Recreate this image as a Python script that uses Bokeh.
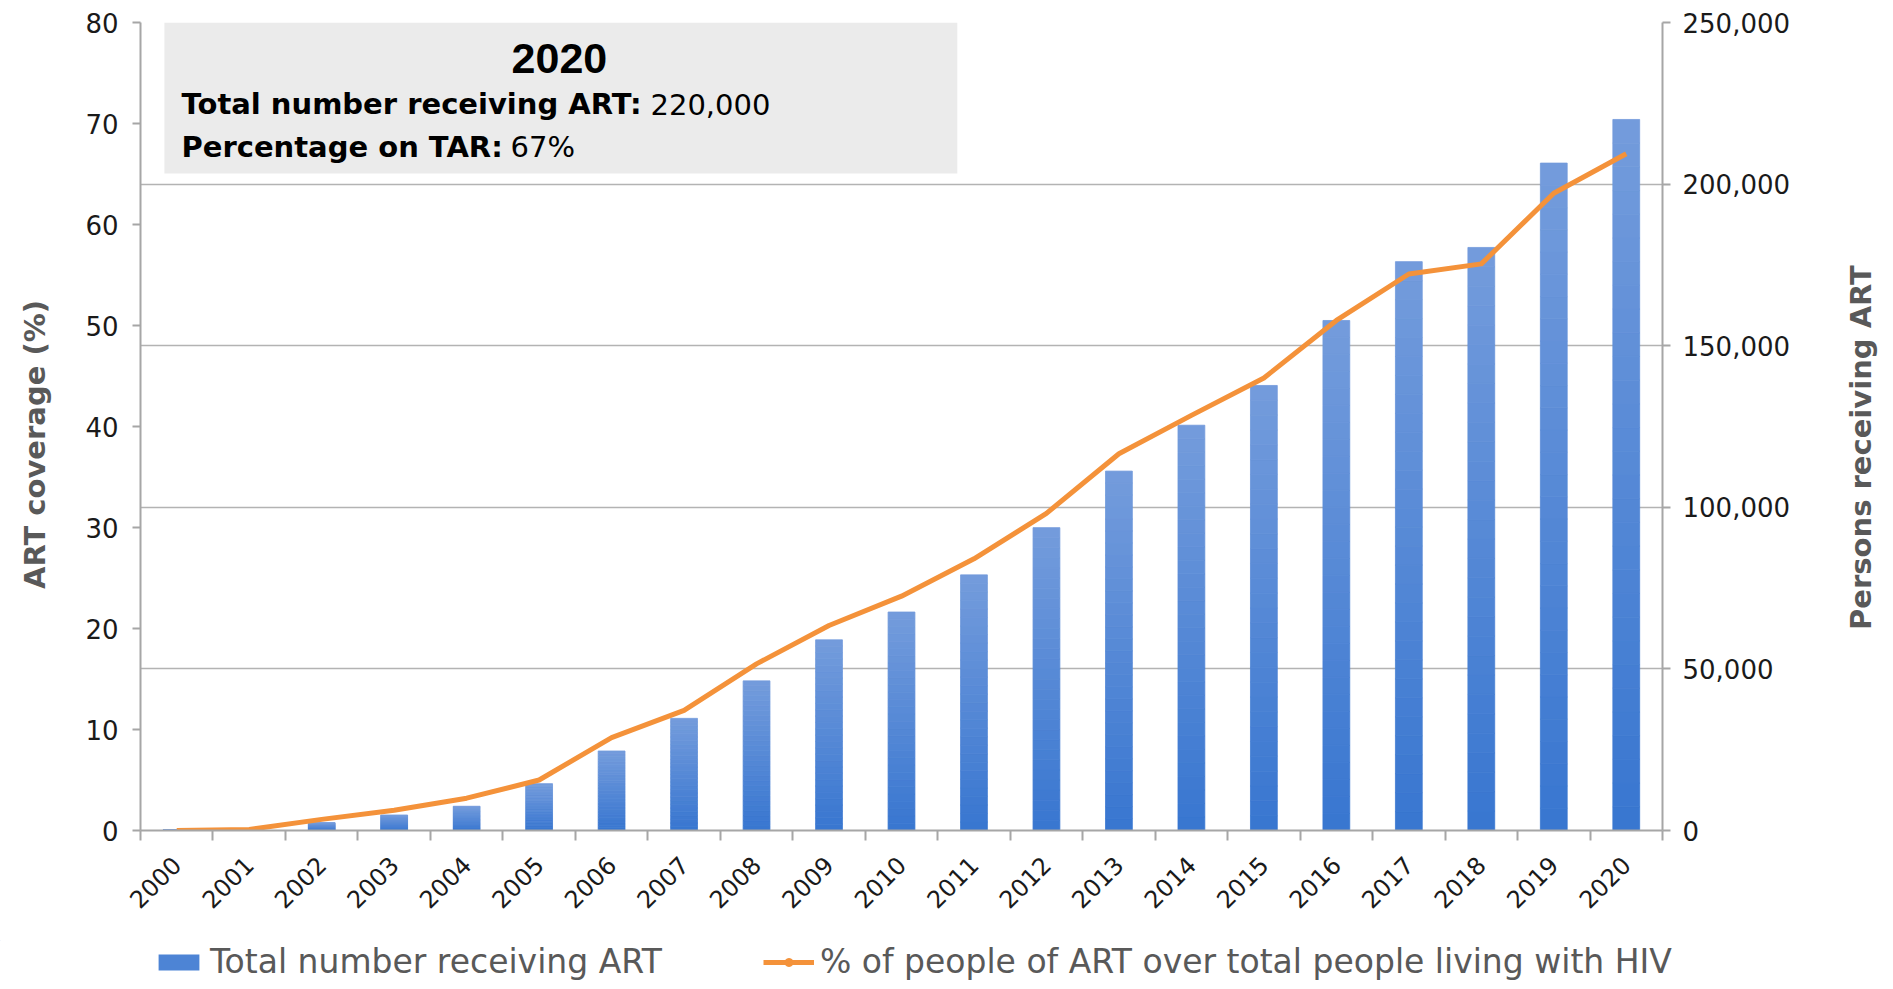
from math import pi
from bokeh.plotting import figure
from bokeh.layouts import row, column
from bokeh.models import (Range1d, LinearAxis, FixedTicker, NumeralTickFormatter, Grid,
                          BoxAnnotation, Label, Legend, LegendItem, ColumnDataSource)
from bokeh.embed import file_html
from bokeh.resources import INLINE

# ---------------- data ----------------
years = list(range(2000, 2021))
year_labels = [str(y) for y in years]
art_total = [300, 400, 2400, 4800, 7500, 14500, 24600, 34700, 46300, 59000, 67600,
             79100, 93700, 111200, 125400, 137700, 157800, 176000, 180400, 206500, 220000]
art_pct = [0.0, 0.1, 1.1, 2.0, 3.2, 5.0, 9.2, 11.9, 16.5, 20.3, 23.2,
           26.9, 31.4, 37.3, 41.1, 44.8, 50.5, 55.1, 56.1, 63.1, 67.0]
left_ticks = [0, 10, 20, 30, 40, 50, 60, 70, 80]
right_ticks = [0, 50000, 100000, 150000, 200000, 250000]
left_title = "ART coverage (%)"
right_title = "Persons receiving ART"
bar_label = "Total number receiving ART"
line_label = "% of people of ART over total people living with HIV"
box_year = "2020"
box_line1_bold = "Total number receiving ART:"
box_line1_val = "220,000"
box_line2_bold = "Percentage on TAR:"
box_line2_val = "67%"

# ---------------- style ----------------
FONT = "DejaVu Sans"
AXIS_GRAY = "#a6a6a6"
GRID_GRAY = "#b3b3b3"
TITLE_GRAY = "#595959"
ORANGE = "#f4923a"
TOP_RGB = (0x74, 0x9c, 0xdc)
BOT_RGB = (0x38, 0x76, 0xd0)
BAR_W = 0.37
LEFT_W = 60      # panel holding the left title
RIGHT_W = 92     # panel holding the right title
MAIN_H = 940
LEG_H = 49
FULL_W = 1885


def blank(width, height):
    # a plain drawing area whose data units are pixels measured from the top-left
    f = figure(frame_width=width, frame_height=height,
               x_range=Range1d(0, width), y_range=Range1d(height, 0),
               x_axis_type=None, y_axis_type=None, output_backend="svg",
               toolbar_location=None, min_border=0, min_border_left=0,
               min_border_right=0, min_border_top=0, min_border_bottom=0,
               background_fill_color="white", border_fill_color="white")
    f.outline_line_color = None
    f.xgrid.visible = False
    f.ygrid.visible = False
    return f


p = figure(frame_width=1522, frame_height=808,
           x_range=Range1d(years[0] - 0.5, years[-1] + 0.5),
           y_range=Range1d(left_ticks[0], left_ticks[-1]),
           output_backend="svg", toolbar_location=None,
           min_border_left=140 - LEFT_W, min_border_right=131,
           min_border_top=22, min_border_bottom=MAIN_H - 22 - 808,
           background_fill_color="white", border_fill_color="white")
p.outline_line_color = None
p.extra_y_ranges = {"persons": Range1d(right_ticks[0], right_ticks[-1])}
p.xgrid.visible = False
p.ygrid.visible = False

grid = Grid(dimension=1, ticker=FixedTicker(ticks=right_ticks), y_range_name="persons",
            grid_line_color=GRID_GRAY, grid_line_width=1.5)
p.add_layout(grid)

# gradient bars (each bar split into thin bands, light at top, dark at bottom)
N = 30
bx, bb, bt, bc = [], [], [], []
for yr, v in zip(years, art_total):
    for k in range(N):
        f = (k + 0.5) / N
        bx.append(yr)
        bb.append(v * k / N)
        bt.append(v * (k + 1) / N)
        c = tuple(int(round(b + (t - b) * f)) for b, t in zip(BOT_RGB, TOP_RGB))
        bc.append("#%02x%02x%02x" % c)
bsrc = ColumnDataSource(dict(x=bx, bottom=bb, top=bt, color=bc))
p.vbar(x="x", bottom="bottom", top="top", width=BAR_W, source=bsrc,
       fill_color="color", line_color="color", line_width=0.8, y_range_name="persons")

p.line(years, art_pct, line_color=ORANGE, line_width=5, line_join="round")

# axes
ax = p.xaxis[0]
ax.ticker = FixedTicker(ticks=years, minor_ticks=[y - 0.5 for y in years] + [years[-1] + 0.5])
ax.major_label_overrides = {y: s for y, s in zip(years, year_labels)}
ax.major_label_orientation = pi / 4
ax.major_tick_line_color = None
ax.minor_tick_line_color = AXIS_GRAY
ax.minor_tick_line_width = 2
ax.minor_tick_out = 10
ax.minor_tick_in = 0
ax.axis_line_color = AXIS_GRAY
ax.axis_line_width = 2
ax.major_label_text_font = FONT
ax.major_label_text_font_size = "24px"
ax.major_label_text_color = "#1a1a1a"
ax.major_label_standoff = 20

ly = p.yaxis[0]
ly.ticker = FixedTicker(ticks=left_ticks)
ly.major_label_text_font = FONT
ly.major_label_text_font_size = "26px"
ly.major_label_text_color = "#1a1a1a"
ly.major_label_standoff = 14
ly.axis_line_color = AXIS_GRAY
ly.axis_line_width = 2
ly.major_tick_line_color = AXIS_GRAY
ly.major_tick_line_width = 2
ly.major_tick_out = 8
ly.major_tick_in = 0
ly.minor_tick_line_color = None

ry = LinearAxis(y_range_name="persons", ticker=FixedTicker(ticks=right_ticks),
                formatter=NumeralTickFormatter(format="0,0"))
ry.major_label_text_font = FONT
ry.major_label_text_font_size = "26px"
ry.major_label_text_color = "#1a1a1a"
ry.major_label_standoff = 12
ry.axis_line_color = AXIS_GRAY
ry.axis_line_width = 2
ry.major_tick_line_color = AXIS_GRAY
ry.major_tick_line_width = 2
ry.major_tick_out = 8
ry.major_tick_in = 0
ry.minor_tick_line_color = None
p.add_layout(ry, "right")

# annotation box
p.add_layout(BoxAnnotation(left=1999.83, right=2010.77, bottom=65.05, top=80,
                           fill_color="#ebebeb", fill_alpha=1, line_color=None, level="underlay"))
p.add_layout(Label(x=2005.28, y=76.4, text=box_year, text_font="Liberation Sans",
                   text_font_style="bold", text_font_size="43px", text_align="center",
                   text_baseline="middle", text_color="black"))
p.add_layout(Label(x=2000.066, y=71.9, text=box_line1_bold, text_font=FONT,
                   text_font_style="bold", text_font_size="29px", text_baseline="middle",
                   text_color="black"))
p.add_layout(Label(x=2000.066, y=71.9, x_offset=469, text=box_line1_val, text_font=FONT,
                   text_font_size="29px", text_baseline="middle", text_color="black"))
p.add_layout(Label(x=2000.066, y=67.7, text=box_line2_bold, text_font=FONT,
                   text_font_style="bold", text_font_size="29px", text_baseline="middle",
                   text_color="black"))
p.add_layout(Label(x=2000.066, y=67.7, x_offset=329, text=box_line2_val, text_font=FONT,
                   text_font_size="29px", text_baseline="middle", text_color="black"))

# left title panel
pl = blank(LEFT_W, MAIN_H)
pl.add_layout(Label(x=34, y=422, text=left_title, angle=pi / 2,
                    text_font=FONT, text_font_style="bold", text_font_size="29px",
                    text_color=TITLE_GRAY, text_align="center", text_baseline="middle"))

# right title panel
pr = blank(RIGHT_W, MAIN_H)
pr.add_layout(Label(x=67, y=425, text=right_title, angle=pi / 2,
                    text_font=FONT, text_font_style="bold", text_font_size="29px",
                    text_color=TITLE_GRAY, text_align="center", text_baseline="middle"))

# legend panel (proxy glyphs sit outside the visible range; only their legend swatches show)
pg = blank(FULL_W, LEG_H)
bar_leg = pg.vbar(x=[-100], top=[-100], bottom=[-90], width=1,
                  fill_color="#4d84d5", line_color=None)
line_leg = pg.line(x=[-100, -90], y=[-100, -100], line_color=ORANGE, line_width=5)
dot_leg = pg.scatter(x=[-100], y=[-100], size=13, marker="circle",
                     fill_color=ORANGE, line_color=ORANGE)
legend = Legend(items=[LegendItem(label=bar_label, renderers=[bar_leg]),
                       LegendItem(label=line_label, renderers=[line_leg, dot_leg])],
                orientation="horizontal", location=(153, 8),
                glyph_width=51, glyph_height=20, label_standoff=6, spacing=101,
                padding=0, margin=0, border_line_color=None, background_fill_alpha=0,
                label_text_font=FONT, label_text_font_size="33px",
                label_text_color=TITLE_GRAY, label_height=36)
pg.add_layout(legend)

layout = column(row(pl, p, pr), pg)
open("out.html", "w").write(file_html(layout, INLINE))
